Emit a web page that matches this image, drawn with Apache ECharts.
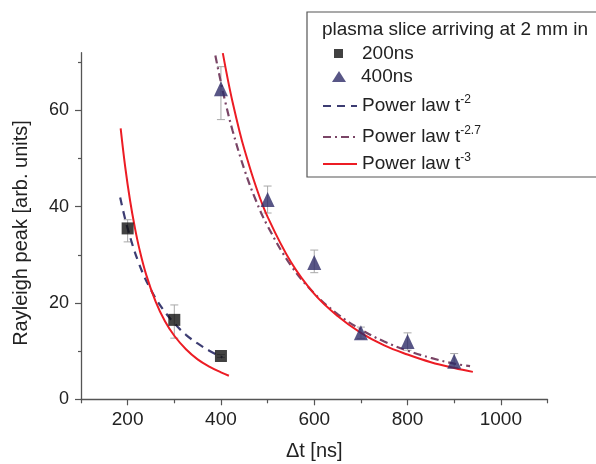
<!DOCTYPE html>
<html>
<head>
<meta charset="utf-8">
<script src="https://cdn.jsdelivr.net/npm/echarts@6/dist/echarts.min.js"></script>
<style>
html,body{margin:0;padding:0;background:#fff;}
#chart{width:596px;height:464px;}
</style>
</head>
<body>
<div id="chart"></div>
<script>
// ---- data ----
const xMajorTicks = [200, 400, 600, 800, 1000];
const xMinorTicks = [100, 300, 500, 700, 900, 1100];
const yMajorTicks = [0, 20, 40, 60];
const yMinorTicks = [10, 30, 50, 70];

const t200 = [200, 300, 400];
const v200 = [35.5, 16.5, 9.0];
const v200Low = [32.7, 12.7, 8.7];
const v200High = [37.3, 19.6, 9.3];

const t400 = [400, 500, 600, 700, 800, 900];
const v400 = [64.5, 41.5, 28.4, 13.8, 12.0, 7.9];
const v400Low = [58.1, 38.7, 26.3, 12.6, 10.2, 6.6];
const v400High = [69.1, 44.3, 31.0, 15.0, 13.8, 9.5];

const fit200t2X = [184, 200, 225, 250, 275, 300, 325, 350, 375, 403];
const fit200t2Y = [41.9, 35.5, 28.0, 22.7, 18.8, 15.8, 13.4, 11.6, 10.1, 8.7];

const fit200t3X = [185, 195, 205, 215, 225, 240, 260, 280, 300, 325, 350, 375, 400, 417];
const fit200t3Y = [56.3, 48.1, 41.4, 35.9, 31.3, 25.8, 20.3, 16.2, 13.2, 10.4, 8.3, 6.8, 5.6, 4.9];

const fit400t27X = [388, 400, 410, 425, 450, 475, 500, 550, 600, 650, 700, 750, 800, 850, 900, 934];
const fit400t27Y = [71.4, 65.8, 61.5, 55.8, 47.8, 41.3, 36.0, 27.8, 22.0, 17.7, 14.5, 12.0, 10.1, 8.6, 7.4, 6.9];

const fit400t3X = [404, 415, 425, 440, 450, 475, 500, 550, 600, 650, 700, 750, 800, 850, 900, 940];
const fit400t3Y = [71.9, 66.3, 61.7, 55.6, 52.0, 44.2, 37.9, 28.5, 21.9, 17.3, 13.8, 11.2, 9.3, 7.7, 6.5, 5.7];

const legendTitle = 'plasma slice arriving at 2 mm in';

// ---- build ----
const zip = (a, b) => a.map((v, i) => [v, b[i]]);
const FONT = 'Liberation Sans, Arial, sans-serif';
const TXT = '#222';
const AX = '#555';
const LFS = 19;

function errBars(xs, lo, hi) {
  return {
    type: 'custom',
    silent: true,
    z: 1,
    data: xs.map((x, i) => [x, lo[i], hi[i]]),
    renderItem: function (params, api) {
      const x = api.value(0);
      const pLo = api.coord([x, api.value(1)]);
      const pHi = api.coord([x, api.value(2)]);
      const w = 4;
      const st = { stroke: '#a8a8a8', lineWidth: 1 };
      return {
        type: 'group',
        children: [
          { type: 'line', shape: { x1: pLo[0], y1: pLo[1], x2: pHi[0], y2: pHi[1] }, style: st },
          { type: 'line', shape: { x1: pLo[0] - w, y1: pLo[1], x2: pLo[0] + w, y2: pLo[1] }, style: st },
          { type: 'line', shape: { x1: pHi[0] - w, y1: pHi[1], x2: pHi[0] + w, y2: pHi[1] }, style: st }
        ]
      };
    }
  };
}

const rich = {
  sp: { width: 14 },
  sp2: { width: 10 },
  n: { fontSize: LFS, lineHeight: 24, color: TXT, fontFamily: FONT },
  s: { fontSize: 12, lineHeight: 12, color: TXT, fontFamily: FONT, verticalAlign: 'top' }
};
const legendLabels = {
  '200ns': '{sp| }{n|200ns}',
  '400ns': '{sp2| }{n|400ns}',
  'pl2': '{n|Power law t}{s|-2}',
  'pl27': '{n|Power law t}{s|-2.7}',
  'pl3': '{n|Power law t}{s|-3}'
};
function mkLegend(name, left, top, w, h, icon, hideSymbol) {
  const d = { name: name };
  if (icon) d.icon = icon;
  const lg = {
    data: [d],
    left: left, top: top, orient: 'vertical',
    itemWidth: w, itemHeight: h, padding: 0,
    selectedMode: false,
    formatter: (nm) => legendLabels[nm],
    textStyle: { rich: rich, fontFamily: FONT, fontSize: LFS, color: TXT }
  };
  if (hideSymbol) lg.itemStyle = { opacity: 0, borderWidth: 0 };
  return lg;
}

const chart = echarts.init(document.getElementById('chart'), null, { renderer: 'canvas' });
chart.setOption({
  animation: false,
  backgroundColor: '#fff',
  grid: { left: 81, right: 48.5, top: 52.7, bottom: 64.7, containLabel: false, outerBoundsMode: 'none' },
  xAxis: [{
    type: 'value', min: 100, max: 1100, interval: 100,
    axisLine: { show: true, lineStyle: { color: AX, width: 1.3 } },
    axisTick: { show: true, length: 6, customValues: xMajorTicks, lineStyle: { color: AX, width: 1.2 } },
    axisLabel: { customValues: xMajorTicks, fontSize: 19, color: TXT, fontFamily: FONT, margin: 11,
      formatter: (v) => String(v) },
    splitLine: { show: false },
    name: 'Δt [ns]', nameLocation: 'middle', nameGap: 42,
    nameTextStyle: { fontSize: 20, color: TXT, fontFamily: FONT }
  }, {
    type: 'value', min: 100, max: 1100, interval: 100, position: 'bottom', offset: 0,
    axisLine: { show: false },
    axisTick: { show: true, length: 4, customValues: xMinorTicks, lineStyle: { color: AX, width: 1.2 } },
    axisLabel: { show: false }, splitLine: { show: false }
  }],
  yAxis: [{
    type: 'value', min: 0, max: 72, interval: 20,
    axisLine: { show: true, lineStyle: { color: AX, width: 1.3 } },
    axisTick: { show: true, length: 6, customValues: yMajorTicks, lineStyle: { color: AX, width: 1.2 } },
    axisLabel: { customValues: yMajorTicks, fontSize: 18, color: TXT, fontFamily: FONT, margin: 12,
      formatter: (v) => String(v) },
    splitLine: { show: false },
    name: 'Rayleigh peak [arb. units]', nameLocation: 'middle', nameGap: 50,
    nameTextStyle: { fontSize: 20, color: TXT, fontFamily: FONT, padding: [0, 14, 0, 0] }
  }, {
    type: 'value', min: 0, max: 72, interval: 20, position: 'left', offset: 0,
    axisLine: { show: false },
    axisTick: { show: true, length: 3, customValues: yMinorTicks, lineStyle: { color: AX, width: 1.2 } },
    axisLabel: { show: false }, splitLine: { show: false }
  }],
  legend: [
    mkLegend('200ns', 334, 44, 9, 9, 'rect'),
    mkLegend('400ns', 332, 67, 14, 11, 'triangle'),
    mkLegend('pl2', 322, 94, 34, 14, null, true),
    mkLegend('pl27', 322, 125, 34, 14, null, true),
    mkLegend('pl3', 322, 152, 34, 14, null, true)
  ],
  graphic: [{
    type: 'rect', z: 0, silent: true,
    shape: { x: 307, y: 12, width: 320, height: 165 },
    style: { fill: '#fff', stroke: '#555', lineWidth: 1.2 }
  }, {
    type: 'text', z: 1, silent: true,
    style: { text: legendTitle, x: 322, y: 30, verticalAlign: 'middle', fontSize: LFS, fontFamily: FONT, fill: TXT }
  }],
  series: [
    errBars(t200, v200Low, v200High),
    errBars(t400, v400Low, v400High),
    {
      name: 'pl2', type: 'line', data: zip(fit200t2X, fit200t2Y), smooth: 0.4, symbol: 'none', z: 2,
      lineStyle: { color: '#3c3c72', width: 2.2, type: [8, 6] }, itemStyle: { color: '#3c3c72' }
    },
    {
      name: 'pl27', type: 'line', data: zip(fit400t27X, fit400t27Y), smooth: 0.4, symbol: 'none', z: 2,
      lineStyle: { color: '#7a4566', width: 2.2, type: [8, 4, 2, 4] }, itemStyle: { color: '#7a4566' }
    },
    {
      name: 'pl3', type: 'line', data: zip(fit200t3X, fit200t3Y), smooth: 0.4, symbol: 'none', z: 3,
      lineStyle: { color: '#ec1c24', width: 2 }, itemStyle: { color: '#ec1c24' }
    },
    {
      name: 'pl3', type: 'line', data: zip(fit400t3X, fit400t3Y), smooth: 0.4, symbol: 'none', z: 3,
      lineStyle: { color: '#ec1c24', width: 2 }, itemStyle: { color: '#ec1c24' }
    },
    {
      name: '200ns', type: 'scatter', data: zip(t200, v200), symbol: 'rect', symbolSize: 12, z: 4,
      itemStyle: { color: '#111' }
    },
    {
      name: '400ns', type: 'scatter', data: zip(t400, v400), symbol: 'triangle', symbolSize: [14, 15], z: 4,
      itemStyle: { color: '#2e2c68' }
    }
  ]
});
</script>
</body>
</html>
